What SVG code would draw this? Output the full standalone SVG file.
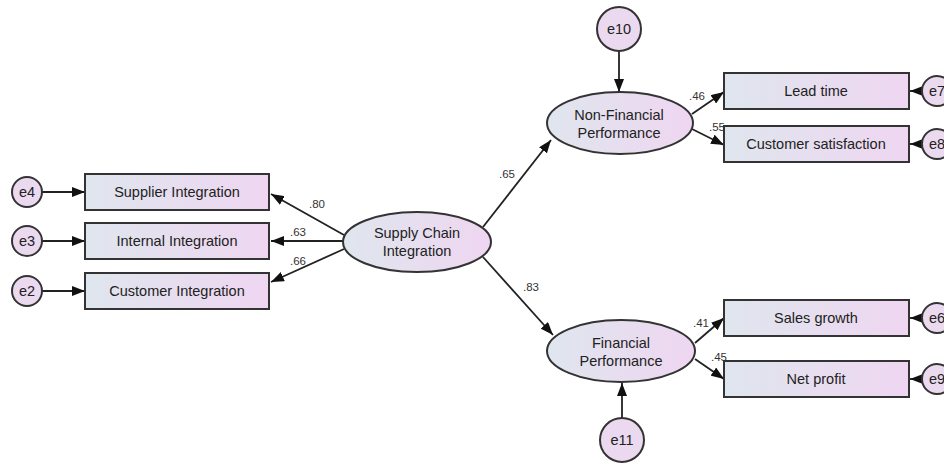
<svg xmlns="http://www.w3.org/2000/svg" width="944" height="470" viewBox="0 0 944 470">
<defs>
<linearGradient id="g" x1="0" y1="0" x2="1" y2="0">
<stop offset="0" stop-color="#dfe6ee"/>
<stop offset="1" stop-color="#efd6f1"/>
</linearGradient>
<marker id="a" markerUnits="userSpaceOnUse" markerWidth="13" markerHeight="10" refX="13" refY="5" orient="auto">
<path d="M0,0 L13,5 L0,10 z" fill="#111"/>
</marker>
<style>
.box{fill:url(#g);stroke:#333;stroke-width:2}
.lat{fill:url(#g);stroke:#333;stroke-width:2}
.err{fill:#ead9ef;stroke:#333;stroke-width:2}
.t{font-family:"Liberation Sans",Arial,sans-serif;font-size:14.5px;fill:#222;text-anchor:middle}
.n{font-family:"Liberation Sans",Arial,sans-serif;font-size:11.5px;fill:#333;text-anchor:middle}
.c{stroke:#222;stroke-width:1.8;fill:none;marker-end:url(#a)}
</style>
</defs>
<rect width="944" height="470" fill="#fff"/>

<g id="connectors">
<line class="c" x1="42" y1="192" x2="85" y2="192"/>
<line class="c" x1="42" y1="241" x2="85" y2="241"/>
<line class="c" x1="42" y1="291" x2="85" y2="291"/>
<line class="c" x1="344" y1="235" x2="271" y2="194"/>
<line class="c" x1="343" y1="241" x2="271" y2="241"/>
<line class="c" x1="344" y1="249" x2="271" y2="282"/>
<line class="c" x1="483" y1="227" x2="551" y2="140"/>
<line class="c" x1="483" y1="257" x2="553" y2="335"/>
<line class="c" x1="619" y1="51" x2="619" y2="92"/>
<line class="c" x1="622" y1="418" x2="622" y2="383"/>
<line class="c" x1="692" y1="114" x2="724" y2="92"/>
<line class="c" x1="692" y1="129" x2="724" y2="145"/>
<line class="c" x1="695" y1="343" x2="724" y2="318"/>
<line class="c" x1="695" y1="359" x2="724" y2="379"/>
<line class="c" x1="922" y1="91" x2="910" y2="91"/>
<line class="c" x1="922" y1="144" x2="910" y2="144"/>
<line class="c" x1="922" y1="318" x2="910" y2="318"/>
<line class="c" x1="922" y1="379" x2="910" y2="379"/>
<text class="n" x="317" y="208">.80</text>
<text class="n" x="298" y="236">.63</text>
<text class="n" x="298" y="265">.66</text>
<text class="n" x="507" y="178">.65</text>
<text class="n" x="531" y="291">.83</text>
<text class="n" x="697" y="100">.46</text>
<text class="n" x="717" y="131">.55</text>
<text class="n" x="701" y="327">.41</text>
<text class="n" x="719" y="361">.45</text>
</g>

<g id="e4"><circle class="err" cx="27" cy="192" r="15"/><text class="t" x="27" y="197">e4</text></g>
<g id="e3"><circle class="err" cx="27" cy="241" r="15"/><text class="t" x="27" y="246">e3</text></g>
<g id="e2"><circle class="err" cx="27" cy="291" r="15"/><text class="t" x="27" y="296">e2</text></g>

<g id="supplier"><rect class="box" x="85" y="174" width="184" height="36"/><text class="t" x="177" y="197">Supplier Integration</text></g>
<g id="internal"><rect class="box" x="85" y="223" width="184" height="36"/><text class="t" x="177" y="246">Internal Integration</text></g>
<g id="customer"><rect class="box" x="85" y="273" width="184" height="36"/><text class="t" x="177" y="296">Customer Integration</text></g>

<g id="sci"><ellipse class="lat" cx="417" cy="242" rx="74" ry="30"/><text class="t" x="417" y="238">Supply Chain</text><text class="t" x="417" y="256">Integration</text></g>

<g id="nfp"><ellipse class="lat" cx="620" cy="123" rx="73" ry="31"/><text class="t" x="619" y="120">Non-Financial</text><text class="t" x="619" y="138">Performance</text></g>
<g id="fp"><ellipse class="lat" cx="621" cy="351" rx="74" ry="31"/><text class="t" x="621" y="348">Financial</text><text class="t" x="621" y="366">Performance</text></g>

<g id="e10"><circle class="err" cx="619" cy="29" r="22"/><text class="t" x="619" y="34">e10</text></g>
<g id="e11"><circle class="err" cx="622" cy="440" r="22"/><text class="t" x="622" y="445">e11</text></g>

<g id="leadtime"><rect class="box" x="724" y="73" width="185" height="36"/><text class="t" x="816" y="96">Lead time</text></g>
<g id="custsat"><rect class="box" x="724" y="126" width="185" height="36"/><text class="t" x="816" y="149">Customer satisfaction</text></g>
<g id="sales"><rect class="box" x="724" y="300" width="185" height="36"/><text class="t" x="816" y="323">Sales growth</text></g>
<g id="netprofit"><rect class="box" x="724" y="361" width="185" height="36"/><text class="t" x="816" y="384">Net profit</text></g>

<g id="e7"><circle class="err" cx="937" cy="91" r="15"/><text class="t" x="937" y="96">e7</text></g>
<g id="e8"><circle class="err" cx="937" cy="144" r="15"/><text class="t" x="937" y="149">e8</text></g>
<g id="e6"><circle class="err" cx="937" cy="318" r="15"/><text class="t" x="937" y="323">e6</text></g>
<g id="e9"><circle class="err" cx="937" cy="379" r="15"/><text class="t" x="937" y="384">e9</text></g>
</svg>
